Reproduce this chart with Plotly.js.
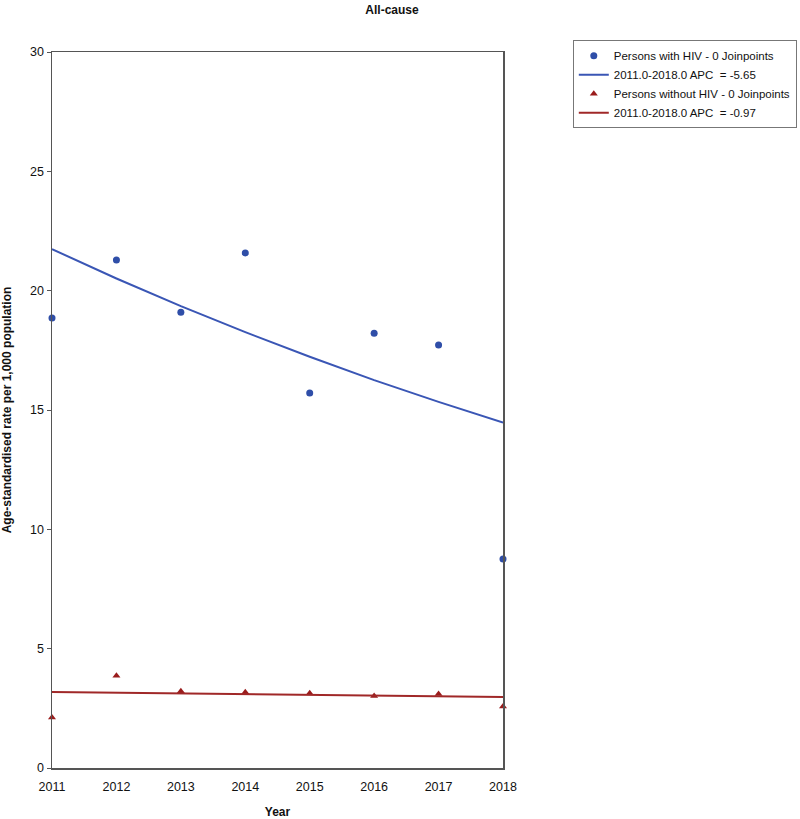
<!DOCTYPE html>
<html>
<head>
<meta charset="utf-8">
<script src="https://cdn.plot.ly/plotly-3.0.1.min.js"></script>
<style>
  html, body { margin: 0; padding: 0; background: #ffffff; }
  #chart { width: 800px; height: 819px; }
</style>
</head>
<body>
<div id="chart"></div>
<script>
// Calendar years on the x axis
const years = [2011, 2012, 2013, 2014, 2015, 2016, 2017, 2018];

// Observed age-standardised rates per 1,000
const hivRates = [18.85, 21.28, 19.10, 21.58, 15.71, 18.22, 17.72, 8.76];
const noHivRates = [2.12, 3.87, 3.22, 3.17, 3.13, 3.02, 3.10, 2.58];

// Joinpoint fitted values (single segment, 0 joinpoints)
const hivFit = [21.74, 20.51, 19.35, 18.26, 17.23, 16.25, 15.34, 14.47];
const noHivFit = [3.18, 3.15, 3.12, 3.09, 3.06, 3.03, 3.00, 2.97];

// Legend labels
const labels = [
  "Persons with HIV - 0 Joinpoints",
  "2011.0-2018.0 APC  = -5.65",
  "Persons without HIV - 0 Joinpoints",
  "2011.0-2018.0 APC  = -0.97"
];

const yTicks = [0, 5, 10, 15, 20, 25, 30];

const blue = "#2f4ea8";
const blueLine = "#3a56b5";
const red = "#9a1c1c";
const redLine = "#a02828";

const traces = [
  { x: years, y: hivRates, mode: "markers", type: "scatter", name: labels[0],
    marker: { symbol: "circle", size: 7, color: blue }, cliponaxis: false },
  { x: years, y: hivFit, mode: "lines", type: "scatter", name: labels[1],
    line: { color: blueLine, width: 2 } },
  { x: years, y: noHivRates, mode: "markers", type: "scatter", name: labels[2],
    marker: { symbol: "triangle-up", size: 7, color: red }, cliponaxis: false },
  { x: years, y: noHivFit, mode: "lines", type: "scatter", name: labels[3],
    line: { color: redLine, width: 2 } }
];

const layout = {
  width: 800,
  height: 819,
  margin: { l: 52, r: 297, t: 52, b: 51, autoexpand: false },
  paper_bgcolor: "#ffffff",
  plot_bgcolor: "#ffffff",
  font: { family: "Liberation Sans, Arial, sans-serif", size: 12, color: "#111111" },
  title: {
    text: "<b>All-cause</b>",
    font: { size: 12, family: "Liberation Sans, Arial, sans-serif", color: "#111111" },
    x: 0.49, xref: "container", y: 0.988, yref: "container", xanchor: "center", yanchor: "middle"
  },
  xaxis: {
    range: [2011, 2018],
    tickvals: years,
    ticktext: years.map(String),
    showgrid: false,
    zeroline: false,
    showline: true,
    mirror: true,
    linecolor: "#555555",
    linewidth: 1.5,
    ticks: "",
    ticklabelstandoff: 6,
    tickfont: { size: 12.5 },
    title: { text: "<b>Year</b>", font: { size: 12 }, standoff: 20 }
  },
  yaxis: {
    range: [0, 30],
    tickvals: yTicks,
    showgrid: false,
    zeroline: false,
    showline: true,
    mirror: true,
    linecolor: "#555555",
    linewidth: 1.5,
    ticks: "outside",
    ticklen: 4,
    tickcolor: "#555555",
    tickfont: { size: 12.5 },
    title: { text: "<b>Age-standardised rate per 1,000 population</b>", font: { size: 12 }, standoff: 17 }
  },
  legend: {
    xref: "container", x: 0.716, xanchor: "left",
    yref: "container", y: 0.951, yanchor: "top",
    bgcolor: "#ffffff",
    bordercolor: "#777777",
    borderwidth: 1,
    font: { size: 11.5 },
    tracegroupgap: 0,
    itemwidth: 30
  },
  showlegend: true
};

Plotly.newPlot("chart", traces, layout, { staticPlot: true, displayModeBar: false });
</script>
</body>
</html>
